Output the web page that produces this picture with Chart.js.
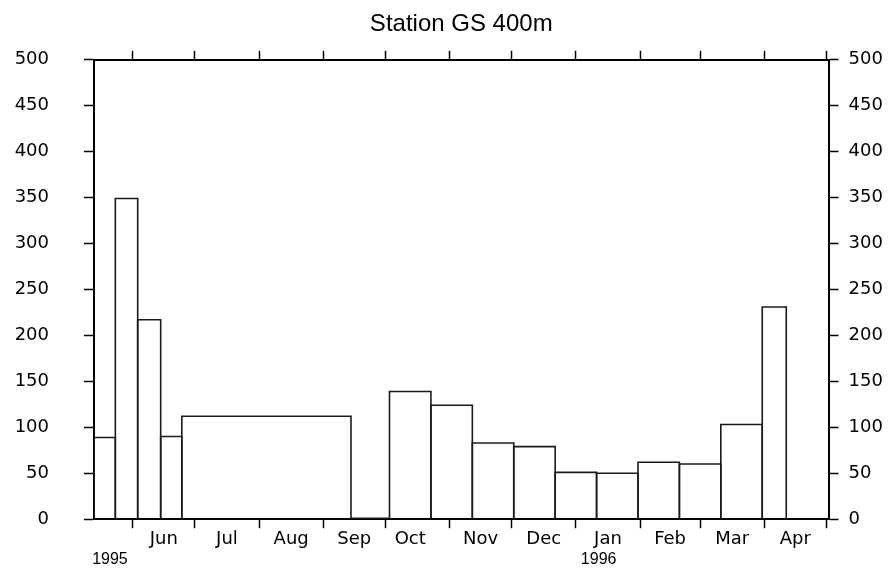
<!DOCTYPE html>
<html>
<head>
<meta charset="utf-8">
<title>Station GS 400m</title>
<script src="https://cdn.jsdelivr.net/npm/chart.js@4.4.1/dist/chart.umd.min.js"></script>
<style>
    html, body { margin: 0; padding: 0; background: #fff; }
    #wrap { width: 890px; height: 569px; }
</style>
</head>
<body>
<div id="wrap"><canvas id="chart" width="890" height="569"></canvas></div>
<script>
// x values are days counted from 1 June 1995
const binEdges = [-18.7, -8.4, 2.4, 13.5, 23.7, 105.4, 124, 144, 164, 184, 204, 224, 244, 264, 284, 304, 315.6];
const fluxValues = [89, 349, 217, 90, 112, 1, 139, 124, 83, 79, 51, 50, 62, 60, 103, 231];

const monthStarts = [0, 30, 61, 92, 122, 153, 183, 214, 245, 274, 305, 335];
const monthMids = [15, 45.5, 76.5, 107, 134, 168, 198.5, 229.5, 259.5, 289.5, 320];
const monthNames = ['Jun', 'Jul', 'Aug', 'Sep', 'Oct', 'Nov', 'Dec', 'Jan', 'Feb', 'Mar', 'Apr'];
const yearDays = [-11, 225];
const yearLabels = ['1995', '1996'];

const xMin = -18.7;
const xMax = 336;

// one closed outline per bin
const datasets = fluxValues.map((v, i) => ({
    data: [
        { x: binEdges[i], y: 0 },
        { x: binEdges[i], y: v },
        { x: binEdges[i + 1], y: v },
        { x: binEdges[i + 1], y: 0 }
    ],
    borderColor: '#1a1a1a',
    borderWidth: 1.6,
    pointRadius: 0,
    fill: false,
    tension: 0,
    xAxisID: 'x',
    yAxisID: 'y'
}));

const tickFont = { family: 'DejaVu Sans', size: 18 };

function fixedTicks(values) {
    return scale => { scale.ticks = values.map(v => ({ value: v })); };
}

function frameAxis(position, values, weight) {
    return {
        type: 'linear',
        position: position,
        min: xMin,
        max: xMax,
        weight: weight,
        afterBuildTicks: fixedTicks(values),
        ticks: { display: false },
        grid: { drawOnChartArea: false, tickLength: 9, tickColor: '#000', tickWidth: 1.5 },
        border: { display: true, color: '#000', width: 2 }
    };
}

function labelAxis(values, labels, font, weight) {
    return {
        type: 'linear',
        position: 'bottom',
        min: xMin,
        max: xMax,
        weight: weight,
        afterBuildTicks: fixedTicks(values),
        ticks: {
            autoSkip: false,
            maxRotation: 0,
            padding: 0,
            color: '#000',
            font: font,
            callback: (value, index) => labels[index]
        },
        grid: { display: false, drawTicks: false },
        border: { display: false }
    };
}

// width is fixed so the plot frame lands where the original has it
function valueAxis(position, pad, width) {
    return {
        type: 'linear',
        position: position,
        min: 0,
        max: 500,
        afterFit: scale => { scale.width = width; },
        ticks: { stepSize: 50, padding: pad, color: '#000', font: tickFont },
        grid: { drawOnChartArea: false, tickLength: 10, tickColor: '#000', tickWidth: 1.5 },
        border: { display: true, color: '#000', width: 2 }
    };
}

new Chart(document.getElementById('chart').getContext('2d'), {
    type: 'line',
    data: { datasets: datasets },
    options: {
        responsive: false,
        animation: false,
        layout: { padding: 0 },
        plugins: {
            legend: { display: false },
            tooltip: { enabled: false },
            title: {
                display: true,
                fullSize: false,
                text: 'Station GS 400m',
                color: '#000',
                font: { family: 'Liberation Sans', size: 24, weight: 'normal' },
                padding: { top: 10, bottom: 12 }
            }
        },
        scales: {
            x: frameAxis('bottom', monthStarts, 0),
            xMonths: labelAxis(monthMids, monthNames, tickFont, 1),
            xYears: labelAxis(yearDays, yearLabels, { family: 'Liberation Sans', size: 16 }, 2),
            xTop: frameAxis('top', monthStarts, 0),
            y: valueAxis('left', 35, 94),
            yRight: valueAxis('right', 10, 61.5)
        }
    }
});
</script>
</body>
</html>
